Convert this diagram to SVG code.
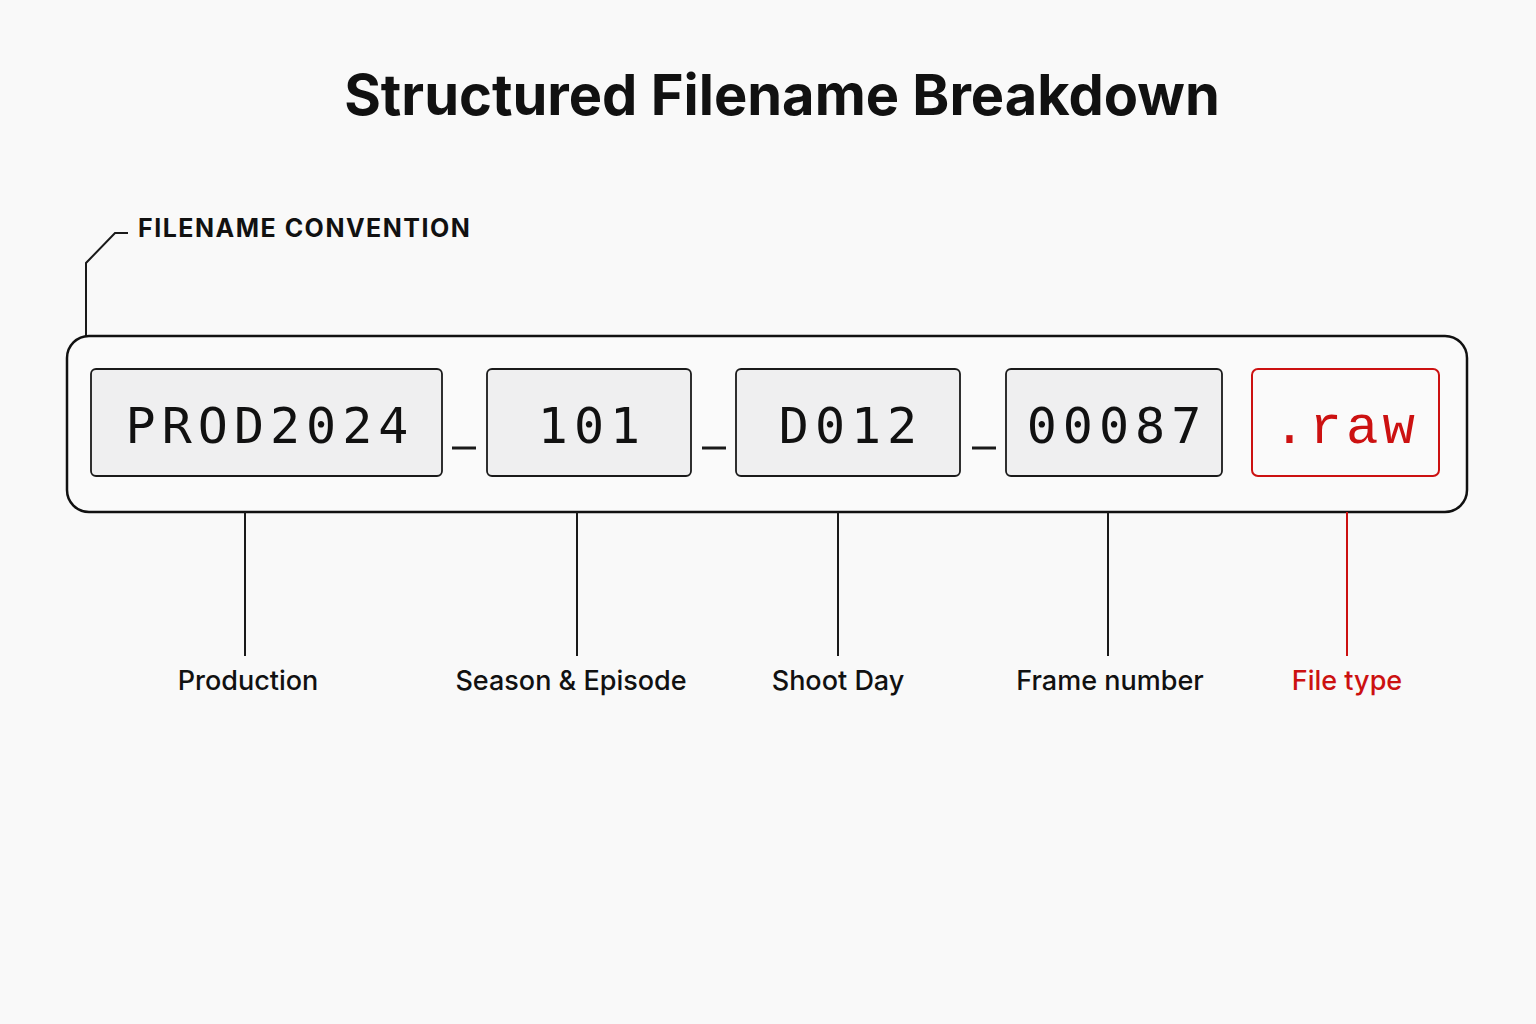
<svg xmlns="http://www.w3.org/2000/svg" width="1536" height="1024" viewBox="0 0 1536 1024">
<style>
.seg{fill:#efeff0;stroke:#1a1a1a;stroke-width:1.8}
.mono{font-family:"DejaVu Sans Mono",monospace;font-size:50px;letter-spacing:6px;fill:#111;text-anchor:middle}
.lbl{font-family:"Inter","Liberation Sans",sans-serif;font-size:27px;font-weight:500;fill:#111;text-anchor:middle}
.ln{stroke:#1a1a1a;stroke-width:2;fill:none}
.us{stroke:#1a1a1a;stroke-width:3}
</style>
<rect width="1536" height="1024" fill="#f9f9f9"/>
<text x="782" y="115" font-family="Inter,'Liberation Sans',sans-serif" font-size="56" font-weight="700" text-anchor="middle" fill="#111">Structured Filename Breakdown</text>
<g id="convention">
<path class="ln" d="M86,336 V263 L115,233 H128"/>
<text x="138" y="237" font-family="Inter,'Liberation Sans',sans-serif" font-size="25" font-weight="700" letter-spacing="1.5" fill="#111">FILENAME CONVENTION</text>
</g>
<g id="container"><rect x="67" y="336" width="1400" height="176" rx="22" fill="#fafafa" stroke="#111" stroke-width="2.5"/></g>
<g id="prod"><rect class="seg" x="91" y="369" width="351" height="107" rx="5"/><text class="mono" x="270" y="443">PROD2024</text></g>
<g id="ep"><rect class="seg" x="487" y="369" width="204" height="107" rx="5"/><text class="mono" x="592" y="443">101</text></g>
<g id="day"><rect class="seg" x="736" y="369" width="224" height="107" rx="5"/><text class="mono" x="851" y="443">D012</text></g>
<g id="frame"><rect class="seg" x="1006" y="369" width="216" height="107" rx="5"/><text class="mono" x="1117" y="443">00087</text></g>
<g id="ext"><rect x="1252" y="369" width="187" height="107" rx="6" fill="#fafafa" stroke="#cc1111" stroke-width="2"/><text x="1346" y="443" font-family="'Liberation Mono',monospace" font-size="54" letter-spacing="4" fill="#cc1111" text-anchor="middle">.raw</text></g>
<g id="seps"><line class="us" x1="452" y1="448" x2="476" y2="448"/><line class="us" x1="702" y1="448" x2="726" y2="448"/><line class="us" x1="972" y1="448" x2="996" y2="448"/></g>
<g id="connectors">
<line class="ln" x1="245" y1="512" x2="245" y2="656"/>
<line class="ln" x1="577" y1="512" x2="577" y2="656"/>
<line class="ln" x1="838" y1="512" x2="838" y2="656"/>
<line class="ln" x1="1108" y1="512" x2="1108" y2="656"/>
<line x1="1347" y1="512" x2="1347" y2="656" stroke="#cc1111" stroke-width="2"/>
</g>
<g id="labels">
<text class="lbl" x="248" y="690">Production</text>
<text class="lbl" x="571" y="690">Season &amp; Episode</text>
<text class="lbl" x="838" y="690">Shoot Day</text>
<text class="lbl" x="1110" y="690">Frame number</text>
<text class="lbl" x="1347" y="690" fill="#cc1111" style="fill:#cc1111">File type</text>
</g>
</svg>
